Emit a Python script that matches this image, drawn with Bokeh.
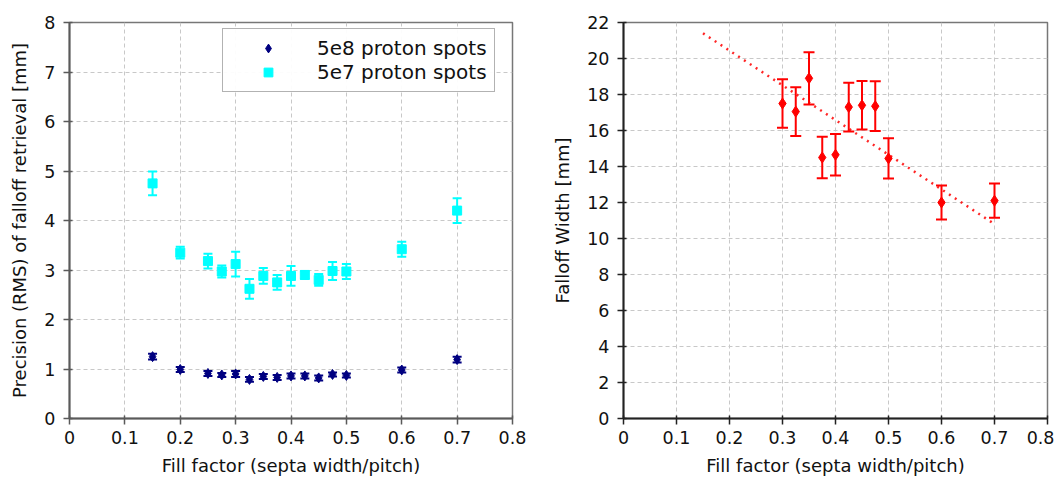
from bokeh.plotting import figure
from bokeh.layouts import row
from bokeh.models import ColumnDataSource, Whisker, FixedTicker, Legend, LegendItem, TeeHead
from bokeh.embed import file_html
from bokeh.resources import INLINE

# ---- data ----
fill = [0.15, 0.2, 0.25, 0.275, 0.3, 0.325, 0.35, 0.375, 0.4, 0.425, 0.45, 0.475, 0.5, 0.6, 0.7]
prec_5e8 = [1.25, 0.99, 0.91, 0.88, 0.90, 0.79, 0.85, 0.83, 0.86, 0.86, 0.82, 0.89, 0.87, 0.98, 1.19]
err_5e8 = [0.06, 0.05, 0.05, 0.04, 0.06, 0.05, 0.05, 0.05, 0.05, 0.05, 0.05, 0.04, 0.04, 0.05, 0.06]
prec_5e7 = [4.75, 3.35, 3.18, 2.97, 3.12, 2.62, 2.88, 2.75, 2.88, 2.90, 2.80, 2.98, 2.97, 3.42, 4.20]
err_5e7 = [0.24, 0.12, 0.15, 0.12, 0.25, 0.20, 0.16, 0.15, 0.20, 0.08, 0.12, 0.18, 0.15, 0.15, 0.25]

fill_r = [0.3, 0.325, 0.35, 0.375, 0.4, 0.425, 0.45, 0.475, 0.5, 0.6, 0.7]
width_r = [17.5, 17.05, 18.9, 14.5, 14.65, 17.3, 17.4, 17.35, 14.45, 12.0, 12.1]
err_r = [1.35, 1.35, 1.45, 1.15, 1.15, 1.35, 1.35, 1.38, 1.12, 0.95, 0.95]
fit_x = [0.15, 0.7]
fit_y = [21.4, 10.8]

x_ticks = [0, 0.1, 0.2, 0.3, 0.4, 0.5, 0.6, 0.7, 0.8]
x_tick_labels = ["0", "0.1", "0.2", "0.3", "0.4", "0.5", "0.6", "0.7", "0.8"]
y_ticks_left = [0, 1, 2, 3, 4, 5, 6, 7, 8]
y_ticks_right = [0, 2, 4, 6, 8, 10, 12, 14, 16, 18, 20, 22]

FONT = "DejaVu Sans"


def style(p, yticks, axis_color):
    p.xaxis.ticker = FixedTicker(ticks=x_ticks)
    p.xaxis.major_label_overrides = {t: l for t, l in zip(x_ticks, x_tick_labels)}
    p.yaxis.ticker = FixedTicker(ticks=yticks)
    for ax in (p.xaxis[0], p.yaxis[0]):
        ax.axis_line_color = axis_color
        ax.axis_line_width = 2
        ax.major_tick_line_color = axis_color
        ax.major_tick_line_width = 1.5
        ax.major_tick_out = 6
        ax.major_tick_in = 3
        ax.minor_tick_line_color = None
        ax.major_label_text_font = FONT
        ax.major_label_text_font_size = "17.5px"
        ax.major_label_text_color = "#111111"
        ax.axis_label_text_font = FONT
        ax.axis_label_text_font_size = "18px"
        ax.axis_label_text_font_style = "normal"
        ax.axis_label_text_color = "#111111"
    p.xaxis.major_label_standoff = 6
    p.xaxis.axis_label_standoff = 8
    p.yaxis.major_label_standoff = 8
    p.yaxis.axis_label_standoff = 11
    for g in (p.xgrid[0], p.ygrid[0]):
        g.grid_line_color = "#c8c8c8"
        g.grid_line_dash = "4 3"
        g.grid_line_width = 1
    p.outline_line_color = "#777777"
    p.outline_line_width = 1.5
    p.background_fill_color = "white"
    p.border_fill_color = "white"


# ---- left figure ----
p1 = figure(frame_width=443, frame_height=396, x_range=(0, 0.8), y_range=(0, 8),
            min_border_left=69, min_border_right=26, min_border_top=22, min_border_bottom=50,
            toolbar_location=None, output_backend="svg",
            x_axis_label="Fill factor (septa width/pitch)",
            y_axis_label="Precision (RMS) of falloff retrieval [mm]")
style(p1, y_ticks_left, "#5a5a5a")

src8 = ColumnDataSource(dict(x=fill, y=prec_5e8,
                             lo=[v - e for v, e in zip(prec_5e8, err_5e8)],
                             hi=[v + e for v, e in zip(prec_5e8, err_5e8)]))
src7 = ColumnDataSource(dict(x=fill, y=prec_5e7,
                             lo=[v - e for v, e in zip(prec_5e7, err_5e7)],
                             hi=[v + e for v, e in zip(prec_5e7, err_5e7)]))

for src, col in ((src8, "navy"), (src7, "cyan")):
    w = Whisker(base="x", lower="lo", upper="hi", source=src, line_color=col, line_width=2,
                upper_head=TeeHead(size=9, line_color=col, line_width=2),
                lower_head=TeeHead(size=9, line_color=col, line_width=2), level="glyph")
    p1.add_layout(w)

r8 = p1.scatter("x", "y", source=src8, marker="diamond", size=10, color="navy")
r7 = p1.scatter("x", "y", source=src7, marker="square", size=9, color="cyan")

leg = Legend(items=[LegendItem(label="5e8 proton spots", renderers=[r8]),
                    LegendItem(label="5e7 proton spots", renderers=[r7])],
             location=(153, 326))
leg.label_text_font = FONT
leg.label_text_font_size = "20px"
leg.label_text_color = "#111111"
leg.border_line_color = "#666666"
leg.border_line_width = 1.5
leg.padding = 7
leg.spacing = 0
leg.margin = 0
leg.glyph_width = 76
leg.glyph_height = 22
leg.label_standoff = 11
leg.label_height = 22
p1.add_layout(leg)

# ---- right figure ----
p2 = figure(frame_width=424, frame_height=396, x_range=(0, 0.8), y_range=(0, 22),
            min_border_left=85, min_border_right=7, min_border_top=22, min_border_bottom=50,
            toolbar_location=None, output_backend="svg",
            x_axis_label="Fill factor (septa width/pitch)",
            y_axis_label="Falloff Width [mm]")
style(p2, y_ticks_right, "#222222")

srcr = ColumnDataSource(dict(x=fill_r, y=width_r,
                             lo=[v - e for v, e in zip(width_r, err_r)],
                             hi=[v + e for v, e in zip(width_r, err_r)]))
p2.line(fit_x, fit_y, line_color="red", line_width=2.5, line_dash="2 5", line_alpha=0.85)
wr = Whisker(base="x", lower="lo", upper="hi", source=srcr, line_color="red", line_width=2,
             upper_head=TeeHead(size=11, line_color="red", line_width=2),
             lower_head=TeeHead(size=11, line_color="red", line_width=2), level="glyph")
p2.add_layout(wr)
p2.scatter("x", "y", source=srcr, marker="diamond", size=11, color="red")

layout = row(p1, p2)
open("out.html", "w").write(file_html(layout, INLINE))
